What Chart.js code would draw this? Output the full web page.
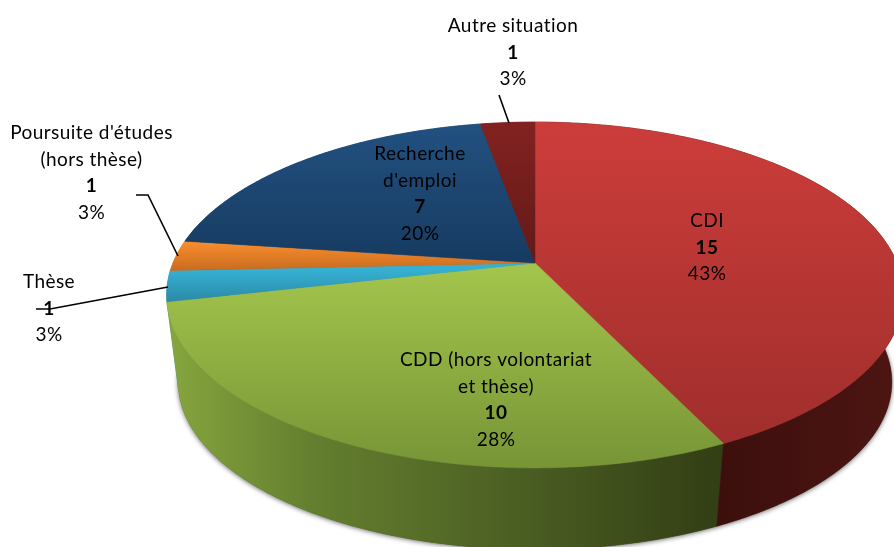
<!DOCTYPE html>
<html>
<head>
<meta charset="utf-8">
<title>Situation</title>
<script src="https://cdn.jsdelivr.net/npm/chart.js@4/dist/chart.umd.min.js"></script>
<style>
html,body{margin:0;padding:0;background:#fff;overflow:hidden}
canvas{display:block}
</style>
</head>
<body>
<canvas id="Grafico1" width="894" height="547"></canvas>
<script>
// data, clockwise from the top
const categorias=[
    ['CDI'],
    ['CDD (hors volontariat','et thèse)'],
    ['Thèse'],
    ["Poursuite d'études",'(hors thèse)'],
    ['Recherche',"d'emploi"],
    ['Autre situation']
];
const valores=[15,10,1,1,7,1];
const porcentajes=['43%','28%','3%','3%','20%','3%'];

// look of the slices
const caraColores=[
    ['#cc3d3a','#a02e2c'],
    ['#a2c44c','#779536'],
    ['#36b0d2','#2a88a6'],
    ['#fa8f2e','#c66a1f'],
    ['#225180','#163a60'],
    ['#822220','#621918']
];
const paredColores=[
    [[0,'#3c0f0d'],[1,'#4c1512']],
    [[0,'#84a43d'],[0.25,'#647f2f'],[0.7,'#465820'],[1,'#323e14']],
    [[0,'#2a88a6'],[1,'#2a88a6']],
    [[0,'#c66a1f'],[1,'#c66a1f']],
    [[0,'#163a60'],[1,'#163a60']],
    [[0,'#641a18'],[1,'#641a18']]
];
const caraY=[[122,445],[270,468],[270,303],[241,272],[122,268],[122,265]];
const paredX=[[722,894],[175,722],[165,185],[165,185],[165,535],[480,535]];

// perspective of the tilted disc: top face and bottom face
const arriba={x:535,y:263,rx:362,ry:167,p:0.185};
const abajo ={x:535,y:352,rx:351,ry:162,p:0.18};

// text blocks: centre x, first baseline y
const textos=[
    {x:707,y:227},
    {x:496,y:366},
    {x:49,y:288},
    {x:91.5,y:139},
    {x:420,y:160},
    {x:513,y:32}
];
const guias=[
    [[499,95],[509,123]],
    [[36,309],[50,309],[168,287]],
    [[136,195],[148,195],[178,256]]
];

function proyectar(plano,t){
    const u=Math.sin(t),v=-Math.cos(t),d=1-plano.p*v;
    return [plano.x+plano.rx*u/d,plano.y+plano.ry*v/d];
}
function arco(plano,a,b){
    const pts=[],n=Math.max(2,Math.ceil(Math.abs(b-a)/0.01));
    for(let i=0;i<=n;i++){
        pts.push(proyectar(plano,a+(b-a)*i/n));
    }
    return pts;
}
function trazar(ctx,pts){
    ctx.beginPath();
    pts.forEach((p,i)=>{
        if(i==0){ctx.moveTo(p[0],p[1]);}else{ctx.lineTo(p[0],p[1]);}
    });
    ctx.closePath();
}

const pie3d={
    id:'pie3d',
    beforeDatasetDraw(chart,args){
        const ctx=chart.ctx;
        const arcos=args.meta.data;
        // library angles start at -90deg, the projection at the top
        const ang=arcos.map(e=>[e.startAngle+Math.PI/2,e.endAngle+Math.PI/2]);
        // soft shadow under the disc
        ctx.save();
        ctx.shadowColor='rgba(0,0,0,0.6)';
        ctx.shadowBlur=5;
        ctx.shadowOffsetY=1;
        ctx.fillStyle='#555';
        trazar(ctx,arco(abajo,0,Math.PI*2));
        ctx.fill();
        ctx.restore();
        // walls, back slices first
        for(let i=arcos.length-1;i>=0;i--){
            const g=ctx.createLinearGradient(paredX[i][0],0,paredX[i][1],0);
            paredColores[i].forEach(s=>g.addColorStop(s[0],s[1]));
            const pts=arco(arriba,ang[i][0],ang[i][1]).concat(arco(abajo,ang[i][1],ang[i][0]));
            trazar(ctx,pts);
            ctx.fillStyle=g;
            ctx.strokeStyle=g;
            ctx.lineWidth=0.5;
            ctx.fill();
            ctx.stroke();
        }
        // top faces
        arcos.forEach((e,i)=>{
            const g=ctx.createLinearGradient(0,caraY[i][0],0,caraY[i][1]);
            g.addColorStop(0,caraColores[i][0]);
            g.addColorStop(1,caraColores[i][1]);
            const pts=[[arriba.x,arriba.y]].concat(arco(arriba,ang[i][0],ang[i][1]));
            trazar(ctx,pts);
            ctx.fillStyle=g;
            ctx.strokeStyle=g;
            ctx.lineWidth=0.5;
            ctx.fill();
            ctx.stroke();
        });
        return false;
    },
    afterDraw(chart){
        const ctx=chart.ctx;
        ctx.save();
        ctx.strokeStyle='#000';
        ctx.lineWidth=1.6;
        guias.forEach(g=>{
            ctx.beginPath();
            g.forEach((p,i)=>{
                if(i==0){ctx.moveTo(p[0],p[1]);}else{ctx.lineTo(p[0],p[1]);}
            });
            ctx.stroke();
        });
        ctx.fillStyle='#000';
        ctx.textAlign='center';
        ctx.textBaseline='alphabetic';
        ctx.letterSpacing='0.45px';
        const alto=26.6;
        textos.forEach((t,i)=>{
            let y=t.y;
            ctx.font='19px Lato, "Open Sans", sans-serif';
            categorias[i].forEach(linea=>{
                ctx.fillText(linea,t.x,y);
                y+=alto;
            });
            ctx.font='bold 19px Lato, "Open Sans", sans-serif';
            ctx.fillText(String(valores[i]),t.x,y);
            y+=alto;
            ctx.font='19px Lato, "Open Sans", sans-serif';
            ctx.fillText(porcentajes[i],t.x,y);
        });
        ctx.restore();
    }
};

let CanvasG1=document.getElementById('Grafico1').getContext('2d');
let G1=new Chart(CanvasG1,{
    type:'pie',
    data:{
        labels:categorias,
        datasets:[{
            data:valores,
            backgroundColor:caraColores.map(c=>c[0]),
            borderWidth:0
        }]
    },
    options:{
        responsive:false,
        animation:false,
        layout:{padding:0},
        plugins:{legend:{display:false},tooltip:{enabled:false}}
    },
    plugins:[pie3d]
});
</script>
</body>
</html>
